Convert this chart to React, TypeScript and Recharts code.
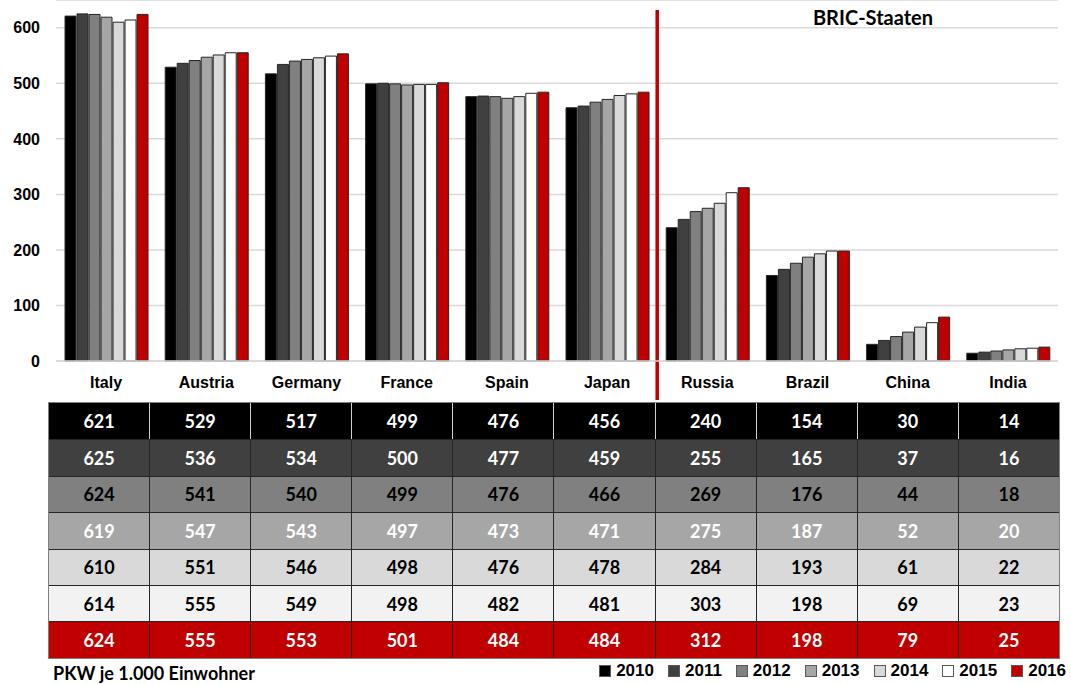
import { Bar, BarChart, CartesianGrid, ReferenceLine, XAxis, YAxis } from "recharts";

const countries = ["Italy", "Austria", "Germany", "France", "Spain", "Japan", "Russia", "Brazil", "China", "India"];
const years = ["2010", "2011", "2012", "2013", "2014", "2015", "2016"];

const v2010 = [621, 529, 517, 499, 476, 456, 240, 154, 30, 14];
const v2011 = [625, 536, 534, 500, 477, 459, 255, 165, 37, 16];
const v2012 = [624, 541, 540, 499, 476, 466, 269, 176, 44, 18];
const v2013 = [619, 547, 543, 497, 473, 471, 275, 187, 52, 20];
const v2014 = [610, 551, 546, 498, 476, 478, 284, 193, 61, 22];
const v2015 = [614, 555, 549, 498, 482, 481, 303, 198, 69, 23];
const v2016 = [624, 555, 553, 501, 484, 484, 312, 198, 79, 25];
const yTicks = [0, 100, 200, 300, 400, 500, 600];

const series = [v2010, v2011, v2012, v2013, v2014, v2015, v2016];
const barFills = ["#000000", "#404040", "#808080", "#a6a6a6", "#d9d9d9", "#ffffff", "#c00000"];
const rowFills = ["#000000", "#404040", "#808080", "#a6a6a6", "#d9d9d9", "#f2f2f2", "#c00000"];
const rowText = ["#ffffff", "#ffffff", "#000000", "#ffffff", "#000000", "#000000", "#ffffff"];

const data = countries.map((c, i) => {
  const row: Record<string, string | number> = { name: c };
  years.forEach((y, k) => (row[y] = series[k][i]));
  return row;
});

const axisFont = "'Liberation Sans', Arial, sans-serif";
const calFont = "Lato, 'Open Sans', sans-serif";

export default function App() {
  return (
    <div style={{ position: "absolute", left: 0, top: 0, width: 1071, height: 684, background: "#fff" }}>
      <BarChart
        width={1071}
        height={684}
        data={data}
        margin={{ top: 0, right: 13, bottom: 293, left: 0 }}
        barCategoryGap="9%"
        barGap={1}
      >
        <CartesianGrid vertical={false} stroke="#d9d9d9" strokeWidth={1.5} />
        <XAxis
          dataKey="name"
          height={30}
          tickLine={false}
          axisLine={{ stroke: "#d9d9d9", strokeWidth: 1.5 }}
          tickMargin={10}
          tick={{ fill: "#000", fontSize: 16, fontWeight: 700, fontFamily: axisFont }}
          interval={0}
        />
        <YAxis
          width={56}
          domain={[0, 650]}
          ticks={yTicks}
          tickLine={false}
          axisLine={false}
          tickMargin={10}
          tick={{ fill: "#000", fontSize: 16, fontWeight: 700, fontFamily: axisFont }}
        />
        {years.map((y, k) => (
          <Bar
            key={y}
            dataKey={y}
            fill={barFills[k]}
            stroke="#262626"
            strokeWidth={1}
            isAnimationActive={false}
          />
        ))}
        <ReferenceLine
          segment={[
            { x: "Russia", y: 632 },
            { x: "Russia", y: -70 },
          ]}
          position="start"
          ifOverflow="visible"
          stroke="#c00000"
          strokeWidth={3.5}
        />
      </BarChart>

      <div
        style={{
          position: "absolute",
          left: 873,
          top: 5,
          transform: "translateX(-50%)",
          fontFamily: calFont,
          fontWeight: 700,
          fontSize: 20,
          color: "#000",
          whiteSpace: "nowrap",
        }}
      >
        BRIC-Staaten
      </div>

      <div
        style={{
          position: "absolute",
          left: 48,
          top: 402,
          width: 1012,
          border: "1px solid #7f7f7f",
          boxSizing: "border-box",
        }}
      >
        {series.map((vals, k) => (
          <div key={k} style={{ display: "flex", height: 36.4, background: rowFills[k], borderTop: k ? "1.5px solid #262626" : "none", boxSizing: "border-box" }}>
            {vals.map((v, i) => (
              <div
                key={i}
                style={{
                  flex: 1,
                  display: "flex",
                  alignItems: "center",
                  justifyContent: "center",
                  borderLeft: i ? (k === 0 ? "1.5px solid #d0d0d0" : "1.5px solid #262626") : "none",
                  color: rowText[k],
                  fontFamily: calFont,
                  fontWeight: 700,
                  fontSize: 18,
                }}
              >
                {v}
              </div>
            ))}
          </div>
        ))}
      </div>

      <div
        style={{
          position: "absolute",
          left: 53,
          top: 662,
          fontFamily: calFont,
          fontWeight: 700,
          fontSize: 18,
          color: "#000",
          whiteSpace: "nowrap",
        }}
      >
        PKW je 1.000 Einwohner
      </div>

      <div
        style={{
          position: "absolute",
          right: 5,
          top: 661,
          display: "flex",
          alignItems: "center",
          fontFamily: axisFont,
          fontWeight: 700,
          fontSize: 17,
          color: "#000",
        }}
      >
        {years.map((y, k) => (
          <div key={y} style={{ display: "flex", alignItems: "center", marginLeft: k ? 14 : 0 }}>
            <span
              style={{
                display: "inline-block",
                width: 10,
                height: 10,
                background: barFills[k],
                border: "1px solid #595959",
                marginRight: 5,
              }}
            />
            <span>{y}</span>
          </div>
        ))}
      </div>
    </div>
  );
}
